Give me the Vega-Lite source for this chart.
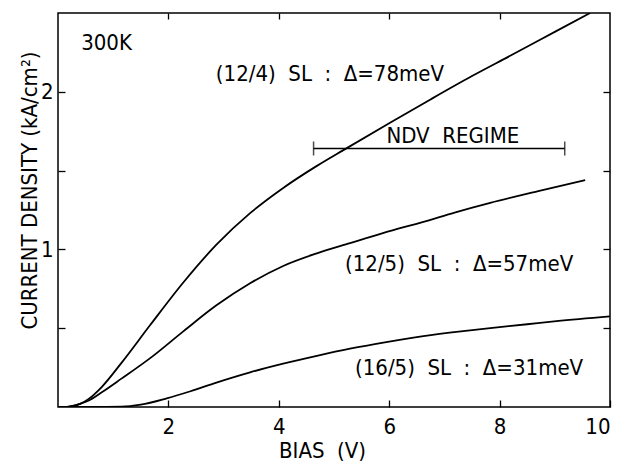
{
  "$schema": "https://vega.github.io/schema/vega-lite/v6.json",
  "autosize": {"type": "none"},
  "padding": {"left": 58, "top": 13, "right": 10, "bottom": 55},
  "width": 552,
  "height": 394,
  "background": "white",
  "config": {
    "view": {"stroke": "black", "strokeWidth": 1.5},
    "font": "DejaVu Sans Condensed",
    "axis": {"grid": false, "domain": false, "tickColor": "black", "tickWidth": 1.3, "labelColor": "black", "titleColor": "black", "labelFont": "DejaVu Sans Condensed", "titleFont": "DejaVu Sans Condensed", "labelFontSize": 22, "titleFontSize": 22, "titleFontWeight": "normal"}
  },
  "datasets": {
    "curves": [
      {"s": "a", "x": 0, "y": 0}, {"s": "a", "x": 0.2, "y": 0.003}, {"s": "a", "x": 0.4, "y": 0.02}, {"s": "a", "x": 0.55, "y": 0.05}, {"s": "a", "x": 0.8, "y": 0.13}, {"s": "a", "x": 1.15, "y": 0.28}, {"s": "a", "x": 1.67, "y": 0.52}, {"s": "a", "x": 2.27, "y": 0.79}, {"s": "a", "x": 2.87, "y": 1.03}, {"s": "a", "x": 3.48, "y": 1.23}, {"s": "a", "x": 4.08, "y": 1.39}, {"s": "a", "x": 4.69, "y": 1.53}, {"s": "a", "x": 5.17, "y": 1.63}, {"s": "a", "x": 6.0, "y": 1.80}, {"s": "a", "x": 6.74, "y": 1.95}, {"s": "a", "x": 7.5, "y": 2.10}, {"s": "a", "x": 8.2, "y": 2.23}, {"s": "a", "x": 9.0, "y": 2.38}, {"s": "a", "x": 9.64, "y": 2.5},
      {"s": "b", "x": 0, "y": 0}, {"s": "b", "x": 0.2, "y": 0.003}, {"s": "b", "x": 0.4, "y": 0.02}, {"s": "b", "x": 0.55, "y": 0.04}, {"s": "b", "x": 0.8, "y": 0.095}, {"s": "b", "x": 1.15, "y": 0.18}, {"s": "b", "x": 1.67, "y": 0.31}, {"s": "b", "x": 2.27, "y": 0.48}, {"s": "b", "x": 2.87, "y": 0.645}, {"s": "b", "x": 3.48, "y": 0.785}, {"s": "b", "x": 4.08, "y": 0.895}, {"s": "b", "x": 4.69, "y": 0.975}, {"s": "b", "x": 5.29, "y": 1.04}, {"s": "b", "x": 5.9, "y": 1.105}, {"s": "b", "x": 6.62, "y": 1.175}, {"s": "b", "x": 7.2, "y": 1.235}, {"s": "b", "x": 7.83, "y": 1.295}, {"s": "b", "x": 8.7, "y": 1.37}, {"s": "b", "x": 9.55, "y": 1.44},
      {"s": "c", "x": 0, "y": 0}, {"s": "c", "x": 0.6, "y": 0}, {"s": "c", "x": 1.15, "y": 0.002}, {"s": "c", "x": 1.5, "y": 0.015}, {"s": "c", "x": 1.97, "y": 0.055}, {"s": "c", "x": 2.4, "y": 0.10}, {"s": "c", "x": 2.87, "y": 0.155}, {"s": "c", "x": 3.48, "y": 0.22}, {"s": "c", "x": 4.08, "y": 0.275}, {"s": "c", "x": 4.69, "y": 0.325}, {"s": "c", "x": 5.29, "y": 0.37}, {"s": "c", "x": 6.0, "y": 0.415}, {"s": "c", "x": 6.62, "y": 0.45}, {"s": "c", "x": 7.3, "y": 0.48}, {"s": "c", "x": 7.83, "y": 0.50}, {"s": "c", "x": 8.5, "y": 0.525}, {"s": "c", "x": 9.03, "y": 0.545}, {"s": "c", "x": 10.0, "y": 0.575}
    ],
    "labels": [
      {"x": 0.42, "y": 2.31, "t": "300K"},
      {"x": 2.86, "y": 2.11, "t": "(12/4)\u00a0\u00a0SL\u00a0\u00a0:\u00a0\u00a0Δ=78meV"},
      {"x": 5.2, "y": 0.91, "t": "(12/5)\u00a0\u00a0SL\u00a0\u00a0:\u00a0\u00a0Δ=57meV"},
      {"x": 5.38, "y": 0.25, "t": "(16/5)\u00a0\u00a0SL\u00a0\u00a0:\u00a0\u00a0Δ=31meV"},
      {"x": 5.95, "y": 1.72, "t": "NDV\u00a0\u00a0REGIME"}
    ],
    "ndv": [{"x": 4.63, "x2": 9.18, "y": 1.64}],
    "caps": [{"x": 4.63, "y": 1.64}, {"x": 9.18, "y": 1.64}]
  },
  "layer": [
    {
      "data": {"name": "curves"},
      "mark": {"type": "line", "color": "black", "strokeWidth": 1.8, "interpolate": "monotone", "clip": true},
      "encoding": {
        "x": {"field": "x", "type": "quantitative", "scale": {"domain": [0, 10], "nice": false},
          "axis": {"values": [2, 4, 6, 8, 10], "tickSize": -7, "labelPadding": 16, "title": "BIAS\u00a0\u00a0(V)", "titleX": 264, "titleY": 50, "titleBaseline": "alphabetic"}},
        "y": {"field": "y", "type": "quantitative", "scale": {"domain": [0, 2.5], "nice": false},
          "axis": {"values": [0.5, 1, 1.5, 2], "labelExpr": "datum.value == 1 || datum.value == 2 ? format(datum.value, 'd') : ''", "tickSize": -7, "labelPadding": 12, "title": "CURRENT DENSITY (kA/cm²)", "titleX": -29, "titleY": 177, "titleBaseline": "middle"}},
        "detail": {"field": "s"}
      }
    },
    {
      "data": {"name": "caps"},
      "mark": {"type": "point", "opacity": 0},
      "encoding": {
        "x": {"field": "x", "type": "quantitative", "axis": {"orient": "top", "values": [2, 4, 6, 8], "tickSize": -6, "labels": false, "title": null}},
        "y": {"field": "y", "type": "quantitative", "axis": {"orient": "right", "values": [0.5, 1, 1.5, 2], "tickSize": -7, "labels": false, "title": null}}
      }
    },
    {
      "data": {"name": "ndv"},
      "mark": {"type": "rule", "color": "black", "strokeWidth": 1.5},
      "encoding": {"x": {"field": "x", "type": "quantitative", "axis": null}, "x2": {"field": "x2"}, "y": {"field": "y", "type": "quantitative", "axis": null}}
    },
    {
      "data": {"name": "caps"},
      "mark": {"type": "tick", "orient": "vertical", "color": "black", "thickness": 1.5, "size": 14},
      "encoding": {"x": {"field": "x", "type": "quantitative", "axis": null}, "y": {"field": "y", "type": "quantitative", "axis": null}}
    },
    {
      "data": {"name": "labels"},
      "mark": {"type": "text", "align": "left", "baseline": "middle", "fontSize": 22, "font": "DejaVu Sans Condensed", "color": "black"},
      "encoding": {"x": {"field": "x", "type": "quantitative", "axis": null}, "y": {"field": "y", "type": "quantitative", "axis": null}, "text": {"field": "t"}}
    }
  ],
  "resolve": {"axis": {"x": "independent", "y": "independent"}}
}
